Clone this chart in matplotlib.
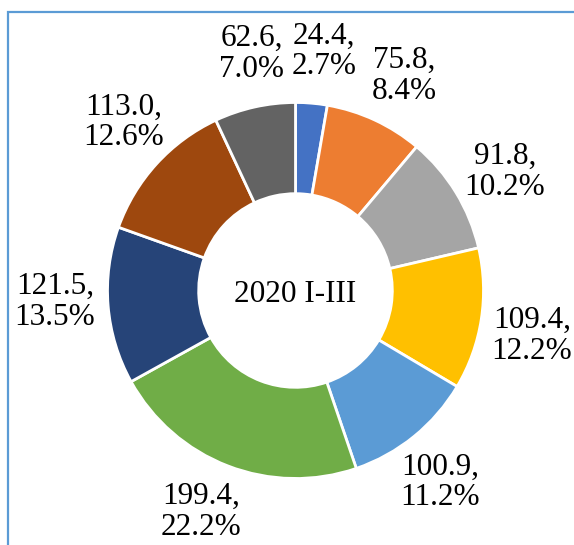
import numpy as np
import matplotlib
matplotlib.use("Agg")
import matplotlib.pyplot as plt
from matplotlib.patches import Rectangle

values = [24.4, 75.8, 91.8, 109.4, 100.9, 199.4, 121.5, 113.0, 62.6]
colors = ["#4472C4", "#ED7D31", "#A5A5A5", "#FFC000", "#5B9BD5",
          "#70AD47", "#264478", "#9E480E", "#636363"]
center_label = "2020 I-III"

plt.rcParams["font.family"] = ["Liberation Serif", "DejaVu Serif"]

W, H = 574, 545
fig = plt.figure(figsize=(W / 100, H / 100), dpi=100)

# chart area border (only top and left edges visible in the crop)
fig.patches.append(Rectangle((8 / W, -0.1), 1.2, (H - 12) / H + 0.1,
                             transform=fig.transFigure, fill=False,
                             edgecolor="#5B9BD5", linewidth=1.6))

cx, cy, r = 295.5, 290.5, 188
ax = fig.add_axes([(cx - r) / W, (H - cy - r) / H, 2 * r / W, 2 * r / H])

wedges, _ = ax.pie(values, colors=colors, startangle=90, counterclock=False,
                   radius=1, wedgeprops=dict(width=0.485, edgecolor="white", linewidth=2))
ax.set_xlim(-1, 1)
ax.set_ylim(-1, 1)
ax.axis("off")

total = sum(values)
for w, v in zip(wedges, values):
    mid = np.deg2rad((w.theta1 + w.theta2) / 2 - 2)
    d = 1.28
    ax.text(d * np.cos(mid), d * np.sin(mid), f"{v:.1f},\n{v / total * 100:.1f}%",
            ha="center", va="center", fontsize=22.5, linespacing=1.08, color="black")

ax.text(0, -0.02, center_label, ha="center", va="center", fontsize=22.5, color="black")

fig.savefig("out.png", dpi=100)
